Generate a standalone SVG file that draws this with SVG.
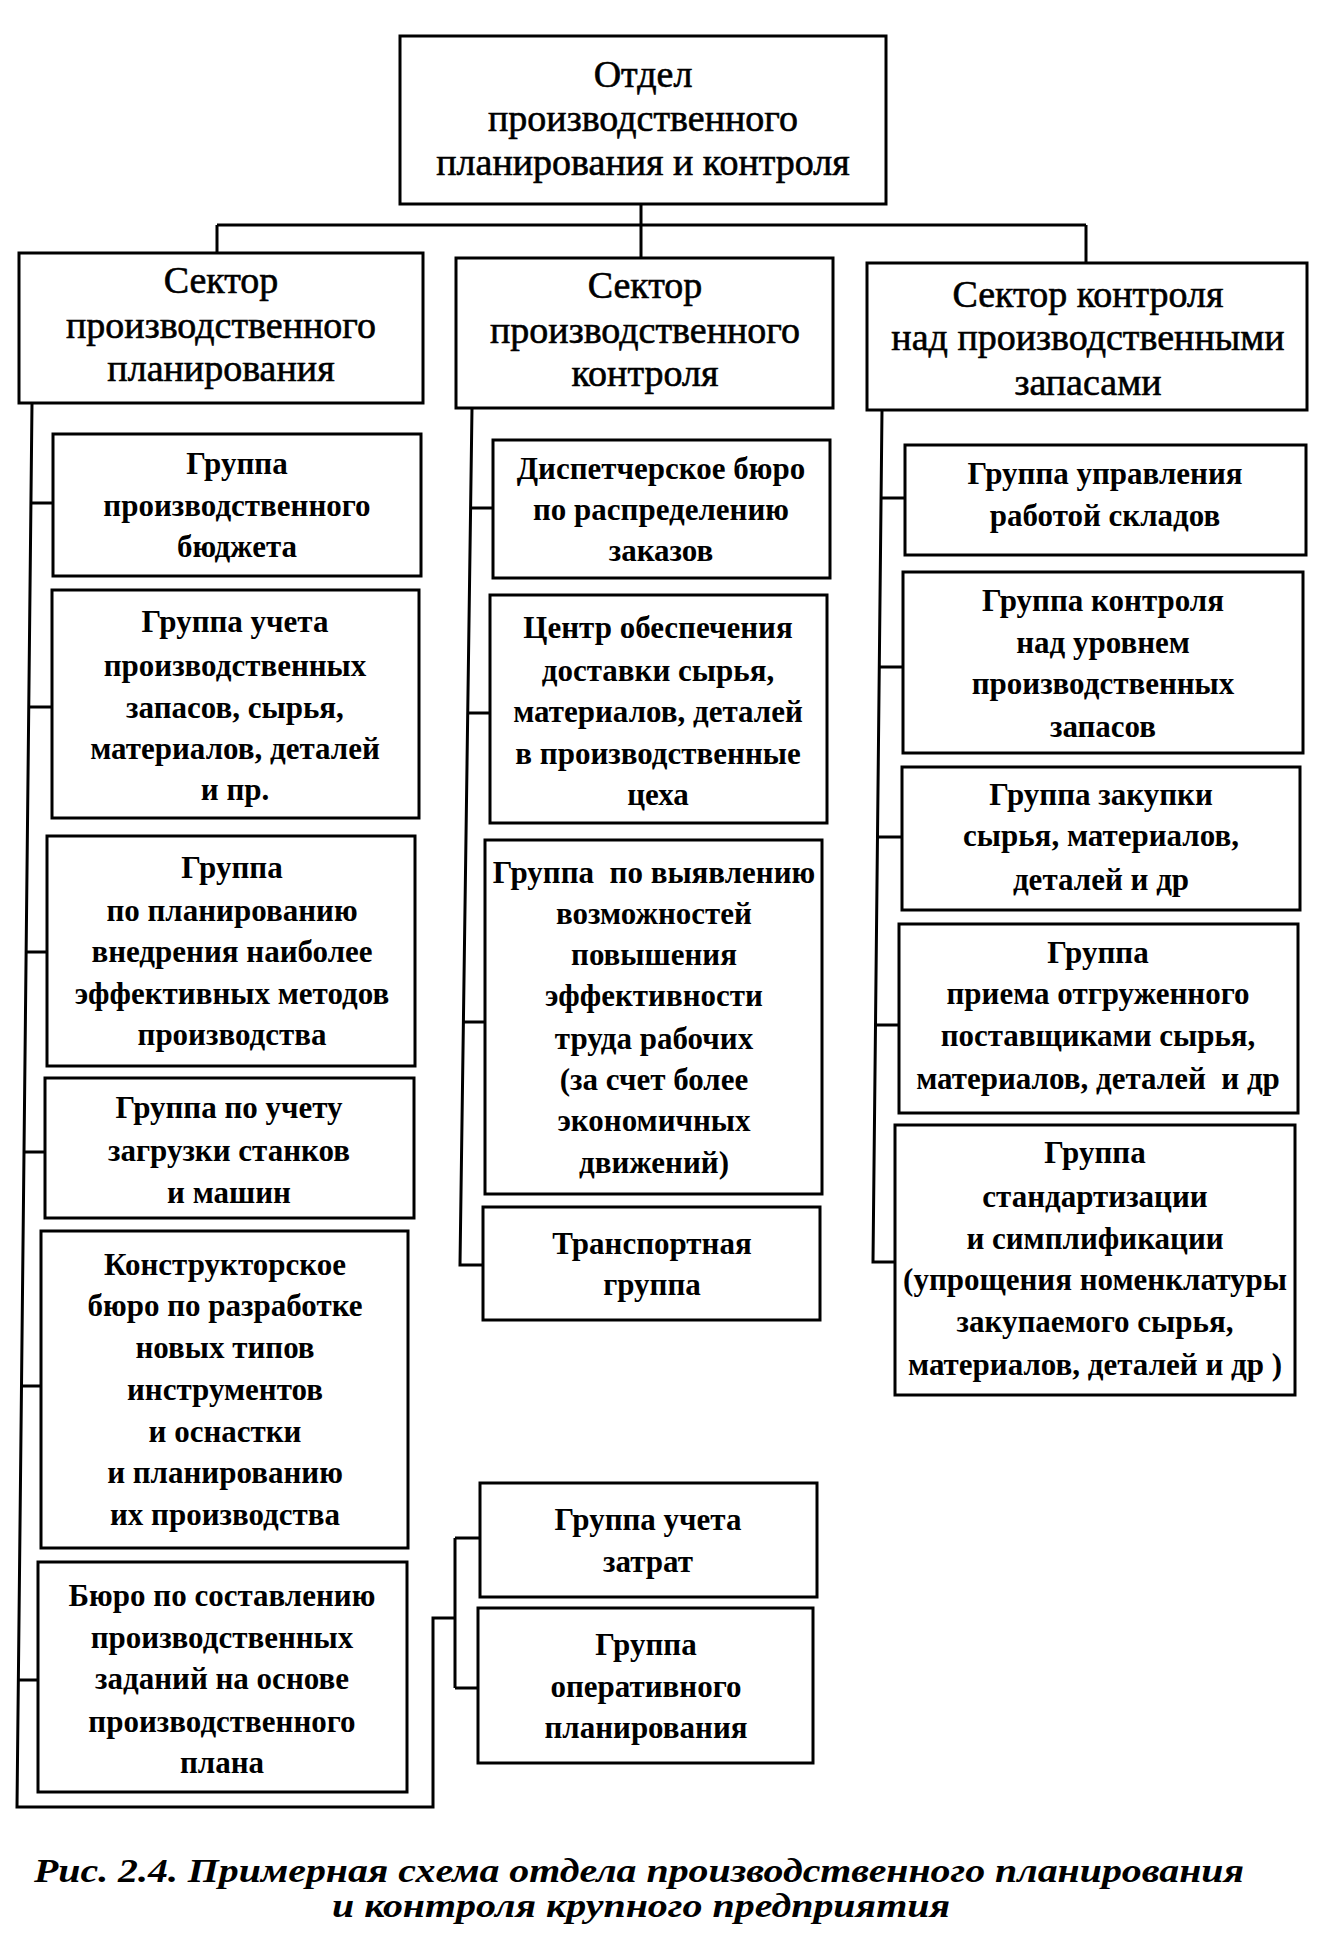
<svg xmlns="http://www.w3.org/2000/svg" width="1336" height="1951" viewBox="0 0 1336 1951">
<style>
.box{fill:#fff;stroke:#000;stroke-width:3}
.ln{fill:none;stroke:#000;stroke-width:3;stroke-linejoin:miter}
text{font-family:"Liberation Serif","Times New Roman",serif;text-anchor:middle;fill:#000}
.h{font-size:38px;stroke:#000;stroke-width:0.6}
.t{font-size:31px;font-weight:bold}
.cap{font-size:34px;font-weight:bold;font-style:italic}
</style>
<rect width="1336" height="1951" fill="#fff"/>
<g id="connectors">
<path class="ln" d="M641,204 V225 M217,225 H1086 M217,225 V253 M641,225 V258 M1086,225 V263"/>
<path class="ln" d="M32,403 L17,1807 H433 V1618 H455 M455,1538 V1688 M455,1538 H480 M455,1688 H478"/>
<path class="ln" d="M31,503 H53 M29,707 H52 M26,952 H47 M24,1152 H45 M21,1386 H41 M18,1680 H38"/>
<path class="ln" d="M472,408 L460,1265 H483 M471,508 H493 M468,713 H490 M463,1022 H485"/>
<path class="ln" d="M882,410 L873,1262 H895 M881,498 H905 M879,667 H903 M878,837 H902 M876,1025 H899"/>
</g>
<g id="top">
<rect class="box" x="400" y="36" width="486" height="168"/>
<text class="h" x="643" y="87">Отдел</text>
<text class="h" x="643" y="131">производственного</text>
<text class="h" x="643" y="175">планирования и контроля</text>
</g>
<g id="sector-plan">
<rect class="box" x="19" y="253" width="404" height="150"/>
<text class="h" x="221" y="293">Сектор</text>
<text class="h" x="221" y="338">производственного</text>
<text class="h" x="221" y="381">планирования</text>
</g>
<g id="sector-control">
<rect class="box" x="456" y="258" width="377" height="150"/>
<text class="h" x="645" y="298">Сектор</text>
<text class="h" x="645" y="343">производственного</text>
<text class="h" x="645" y="386">контроля</text>
</g>
<g id="sector-stock">
<rect class="box" x="867" y="263" width="440" height="147"/>
<text class="h" x="1088" y="307">Сектор контроля</text>
<text class="h" x="1088" y="350">над производственными</text>
<text class="h" x="1088" y="395">запасами</text>
</g>
<g id="l1">
<rect class="box" x="53" y="434" width="368" height="142"/>
<text class="t" x="237" y="474">Группа</text>
<text class="t" x="237" y="516">производственного</text>
<text class="t" x="237" y="557">бюджета</text>
</g>
<g id="l2">
<rect class="box" x="52" y="590" width="367" height="228"/>
<text class="t" x="235" y="632">Группа учета</text>
<text class="t" x="235" y="676">производственных</text>
<text class="t" x="235" y="718">запасов, сырья,</text>
<text class="t" x="235" y="759">материалов, деталей</text>
<text class="t" x="235" y="800">и пр.</text>
</g>
<g id="l3">
<rect class="box" x="47" y="836" width="368" height="230"/>
<text class="t" x="232" y="878">Группа</text>
<text class="t" x="232" y="921">по планированию</text>
<text class="t" x="232" y="962">внедрения наиболее</text>
<text class="t" x="232" y="1004">эффективных методов</text>
<text class="t" x="232" y="1045">производства</text>
</g>
<g id="l4">
<rect class="box" x="45" y="1078" width="369" height="140"/>
<text class="t" x="229" y="1118">Группа по учету</text>
<text class="t" x="229" y="1161">загрузки станков</text>
<text class="t" x="229" y="1203">и машин</text>
</g>
<g id="l5">
<rect class="box" x="41" y="1231" width="367" height="317"/>
<text class="t" x="225" y="1275">Конструкторское</text>
<text class="t" x="225" y="1316">бюро по разработке</text>
<text class="t" x="225" y="1358">новых типов</text>
<text class="t" x="225" y="1400">инструментов</text>
<text class="t" x="225" y="1442">и оснастки</text>
<text class="t" x="225" y="1483">и планированию</text>
<text class="t" x="225" y="1525">их производства</text>
</g>
<g id="l6">
<rect class="box" x="38" y="1562" width="369" height="230"/>
<text class="t" x="222" y="1606">Бюро по составлению</text>
<text class="t" x="222" y="1648">производственных</text>
<text class="t" x="222" y="1689">заданий на основе</text>
<text class="t" x="222" y="1732">производственного</text>
<text class="t" x="222" y="1773">плана</text>
</g>
<g id="m1">
<rect class="box" x="493" y="440" width="337" height="138"/>
<text class="t" x="661" y="479">Диспетчерское бюро</text>
<text class="t" x="661" y="520">по распределению</text>
<text class="t" x="661" y="561">заказов</text>
</g>
<g id="m2">
<rect class="box" x="490" y="595" width="337" height="228"/>
<text class="t" x="658" y="638">Центр обеспечения</text>
<text class="t" x="658" y="681">доставки сырья,</text>
<text class="t" x="658" y="722">материалов, деталей</text>
<text class="t" x="658" y="764">в производственные</text>
<text class="t" x="658" y="805">цеха</text>
</g>
<g id="m3">
<rect class="box" x="485" y="840" width="337" height="354"/>
<text class="t" x="654" y="883" xml:space="preserve">Группа  по выявлению</text>
<text class="t" x="654" y="924">возможностей</text>
<text class="t" x="654" y="965">повышения</text>
<text class="t" x="654" y="1006">эффективности</text>
<text class="t" x="654" y="1049">труда рабочих</text>
<text class="t" x="654" y="1090">(за счет более</text>
<text class="t" x="654" y="1131">экономичных</text>
<text class="t" x="654" y="1173">движений)</text>
</g>
<g id="m4">
<rect class="box" x="483" y="1207" width="337" height="113"/>
<text class="t" x="652" y="1254">Транспортная</text>
<text class="t" x="652" y="1295">группа</text>
</g>
<g id="m5">
<rect class="box" x="480" y="1483" width="337" height="114"/>
<text class="t" x="648" y="1530">Группа учета</text>
<text class="t" x="648" y="1572">затрат</text>
</g>
<g id="m6">
<rect class="box" x="478" y="1608" width="335" height="155"/>
<text class="t" x="646" y="1655">Группа</text>
<text class="t" x="646" y="1697">оперативного</text>
<text class="t" x="646" y="1738">планирования</text>
</g>
<g id="r1">
<rect class="box" x="905" y="445" width="401" height="110"/>
<text class="t" x="1105" y="484">Группа управления</text>
<text class="t" x="1105" y="526">работой складов</text>
</g>
<g id="r2">
<rect class="box" x="903" y="572" width="400" height="181"/>
<text class="t" x="1103" y="611">Группа контроля</text>
<text class="t" x="1103" y="653">над уровнем</text>
<text class="t" x="1103" y="694">производственных</text>
<text class="t" x="1103" y="737">запасов</text>
</g>
<g id="r3">
<rect class="box" x="902" y="767" width="398" height="143"/>
<text class="t" x="1101" y="805">Группа закупки</text>
<text class="t" x="1101" y="846">сырья, материалов,</text>
<text class="t" x="1101" y="890">деталей и др</text>
</g>
<g id="r4">
<rect class="box" x="899" y="924" width="399" height="189"/>
<text class="t" x="1098" y="963">Группа</text>
<text class="t" x="1098" y="1004">приема отгруженного</text>
<text class="t" x="1098" y="1046">поставщиками сырья,</text>
<text class="t" x="1098" y="1089" xml:space="preserve">материалов, деталей  и др</text>
</g>
<g id="r5">
<rect class="box" x="895" y="1125" width="400" height="270"/>
<text class="t" x="1095" y="1163">Группа</text>
<text class="t" x="1095" y="1207">стандартизации</text>
<text class="t" x="1095" y="1249">и симплификации</text>
<text class="t" x="1095" y="1290">(упрощения номенклатуры</text>
<text class="t" x="1095" y="1332">закупаемого сырья,</text>
<text class="t" x="1095" y="1375">материалов, деталей и др )</text>
</g>
<g id="caption">
<text class="cap" x="639" y="1882" textLength="1210" lengthAdjust="spacingAndGlyphs">Рис. 2.4. Примерная схема отдела производственного планирования</text>
<text class="cap" x="641" y="1917" textLength="618" lengthAdjust="spacingAndGlyphs">и контроля крупного предприятия</text>
</g>
</svg>
